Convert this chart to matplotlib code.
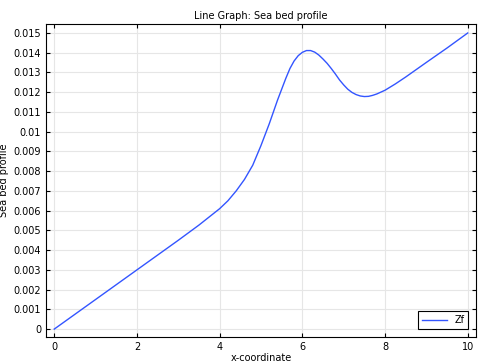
import matplotlib
matplotlib.use("Agg")
import matplotlib.pyplot as plt
from matplotlib.ticker import FuncFormatter, MultipleLocator

# values
x = [0, 1, 2, 3, 3.5, 4.0, 4.2, 4.4, 4.6, 4.8, 5.0, 5.2, 5.4, 5.6, 5.7,
     5.8, 5.9, 6.0, 6.1, 6.2, 6.3, 6.4, 6.5, 6.6, 6.7, 6.8, 6.9, 7.0,
     7.1, 7.2, 7.3, 7.4, 7.5, 7.6, 7.7, 7.8, 8.0, 8.25, 8.5, 9.0, 9.5, 10]
zf = [0, 0.0015, 0.003, 0.0045, 0.00527, 0.0061, 0.0065, 0.0070, 0.00758,
      0.0083, 0.0093, 0.0104, 0.0116, 0.0127, 0.0132, 0.01358, 0.01385,
      0.01402, 0.01411, 0.01411, 0.01403, 0.01388, 0.01368, 0.01346,
      0.0132, 0.01292, 0.01262, 0.01237, 0.01215, 0.01199, 0.01188,
      0.01181, 0.01178, 0.01179, 0.01184, 0.01191, 0.0121, 0.01242,
      0.01277, 0.01351, 0.01424, 0.0150]

fig = plt.figure(figsize=(4.83, 3.64), dpi=100)
ax = fig.add_axes([0.0952, 0.0742, 0.8903, 0.8585])

ax.plot(x, zf, color="#3355ff", lw=1.0, label="Zf")

ax.set_xlim(-0.2, 10.2)
ax.set_ylim(-0.0004, 0.01543)
ax.xaxis.set_major_locator(MultipleLocator(2))
ax.yaxis.set_major_locator(MultipleLocator(0.001))
ax.yaxis.set_major_formatter(FuncFormatter(lambda v, p: "%g" % round(v, 4)))
ax.tick_params(direction="in", top=True, right=True, labelsize=7, length=3)
ax.grid(True, color="#e6e6e6", lw=0.8)
ax.set_axisbelow(True)

ax.set_title("Line Graph: Sea bed profile", fontsize=7, pad=4)
ax.set_xlabel("x-coordinate", fontsize=7, labelpad=1)
ax.set_ylabel("Sea bed profile", fontsize=7, labelpad=3)

leg = ax.legend(loc="lower right", fontsize=7, fancybox=False,
                framealpha=1, edgecolor="black", handlelength=2.5,
                borderaxespad=0.8)
leg.get_frame().set_linewidth(0.8)

fig.savefig("out.png", dpi=100)
